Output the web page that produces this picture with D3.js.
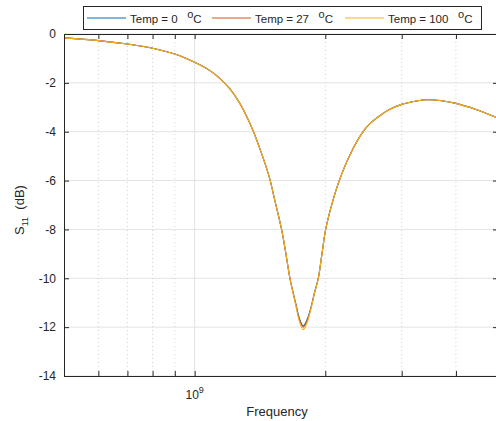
<!DOCTYPE html>
<html>
<head>
<meta charset="utf-8">
<script src="https://cdn.jsdelivr.net/npm/d3@7"></script>
<style>
  body { margin: 0; background: #fff; }
  text { font-family: "Liberation Sans", Arial, sans-serif; fill: #262626; }
</style>
</head>
<body>
<div id="app"></div>
<script>
// data: frequency (Hz) and S11 (dB) per temperature
var freq = [5.0e8, 6.0e8, 7.0e8, 8.0e8, 9.0e8, 1.0e9, 1.085e9, 1.143e9, 1.206e9, 1.272e9, 1.318e9, 1.365e9, 1.414e9, 1.465e9, 1.491e9, 1.525e9, 1.586e9, 1.623e9, 1.658e9, 1.711e9, 1.744e9, 1.779e9, 1.815e9, 1.853e9, 1.888e9, 1.927e9, 1.965e9, 2.004e9, 2.072e9, 2.154e9, 2.279e9, 2.426e9, 2.517e9, 2.627e9, 2.818e9, 3.0e9, 3.248e9, 3.424e9, 3.675e9, 4.0e9, 4.466e9, 4.945e9];
var temp0   = [-0.16, -0.27, -0.41, -0.58, -0.82, -1.16, -1.50, -1.82, -2.25, -2.85, -3.38, -3.98, -4.70, -5.50, -5.95, -6.70, -8.0, -9.0, -10.0, -11.05, -11.65, -11.95, -11.70, -11.2, -10.6, -10.0, -9.0, -8.0, -6.95, -6.0, -4.95, -4.08, -3.72, -3.44, -3.08, -2.88, -2.74, -2.69, -2.72, -2.84, -3.10, -3.41];
var temp27  = [-0.16, -0.27, -0.41, -0.58, -0.82, -1.16, -1.50, -1.82, -2.25, -2.85, -3.38, -3.98, -4.70, -5.50, -5.95, -6.70, -8.0, -9.0, -10.0, -11.08, -11.70, -12.00, -11.75, -11.22, -10.6, -10.0, -9.0, -8.0, -6.95, -6.0, -4.95, -4.08, -3.72, -3.44, -3.08, -2.88, -2.74, -2.69, -2.72, -2.84, -3.10, -3.41];
var temp100 = [-0.16, -0.27, -0.41, -0.58, -0.82, -1.16, -1.50, -1.82, -2.25, -2.85, -3.38, -3.98, -4.70, -5.50, -5.95, -6.70, -8.0, -9.0, -10.0, -11.12, -11.78, -12.10, -11.83, -11.26, -10.62, -10.0, -9.0, -8.0, -6.95, -6.0, -4.95, -4.08, -3.72, -3.44, -3.08, -2.88, -2.74, -2.69, -2.72, -2.84, -3.10, -3.41];
var seriesNames = ['Temp = 0', 'Temp = 27', 'Temp = 100'];
var yTicks = [0, -2, -4, -6, -8, -10, -12, -14];
var xMinor = [6e8, 7e8, 8e8, 9e8, 2e9, 3e9, 4e9];
var xMajor = [1e9];

var colors = ['#0072BD', '#D95319', '#EDB120'];
var series = [temp0, temp27, temp100];

var svg = d3.select('#app')
  .append('svg')
    .attr('width', 496)
    .attr('height', 421);

var mLeft = 64, mRight = 498, mTop = 34, mBottom = 376;

var x = d3.scaleLog()
    .domain([5e8, 5e9])
    .range([mLeft, mRight]);

var y = d3.scaleLinear()
    .domain([-14, 0])
    .range([mBottom, mTop]);

// grid
var grid = svg.append('g');
grid.selectAll('.yg')
    .data(yTicks)
  .enter().append('line')
    .attr('x1', mLeft).attr('x2', mRight)
    .attr('y1', function(d){return y(d)})
    .attr('y2', function(d){return y(d)})
    .attr('stroke', '#e3e3e3');
grid.selectAll('.xg')
    .data(xMajor)
  .enter().append('line')
    .attr('x1', function(d){return x(d)})
    .attr('x2', function(d){return x(d)})
    .attr('y1', mTop).attr('y2', mBottom)
    .attr('stroke', '#e3e3e3');
grid.selectAll('.xm')
    .data(xMinor)
  .enter().append('line')
    .attr('x1', function(d){return x(d)})
    .attr('x2', function(d){return x(d)})
    .attr('y1', mTop).attr('y2', mBottom)
    .attr('stroke', '#cfcfcf')
    .attr('stroke-dasharray', '1,3');

// curves
var line = d3.line()
    .x(function(d){return x(d[0])})
    .y(function(d){return y(d[1])})
    .curve(d3.curveCatmullRom.alpha(0.5));

series.forEach(function(s, i){
  svg.append('path')
    .datum(freq.map(function(f, j){return [f, s[j]]}))
    .attr('d', line)
    .attr('fill', 'none')
    .attr('stroke', colors[i])
    .attr('stroke-width', 1.1);
});

// axes
var axisColor = '#262626';
function styleAxis(g){
  g.select('.domain').attr('stroke', axisColor);
  g.selectAll('.tick line').attr('stroke', axisColor);
  g.selectAll('.tick text').style('font-size', '12px').attr('fill', axisColor);
}

svg.append('g')
    .attr('transform', 'translate(' + mLeft + ',0)')
    .call(d3.axisLeft(y).tickValues(yTicks).tickSizeInner(-5).tickSizeOuter(0).tickPadding(8)
      .tickFormat(function(d){return String(d)}))
    .call(styleAxis);

svg.append('g')
    .attr('transform', 'translate(' + mRight + ',0)')
    .call(d3.axisRight(y).tickValues(yTicks).tickSizeInner(-5).tickSizeOuter(0).tickFormat(''))
    .call(styleAxis);

var allX = xMajor.concat(xMinor);
svg.append('g')
    .attr('transform', 'translate(0,' + mBottom + ')')
    .call(d3.axisBottom(x).tickValues(allX).tickSizeInner(-5).tickSizeOuter(0).tickFormat(''))
    .call(styleAxis);
svg.append('g')
    .attr('transform', 'translate(0,' + mTop + ')')
    .call(d3.axisTop(x).tickValues(allX).tickSizeInner(-5).tickSizeOuter(0).tickFormat(''))
    .call(styleAxis);

svg.selectAll('.xlab')
    .data(xMajor)
  .enter().append('text')
    .attr('x', function(d){return x(d)})
    .attr('y', 399)
    .attr('text-anchor', 'middle')
    .style('font-size', '12px')
    .html(function(d){return '10<tspan dy="-6" font-size="9px">' + Math.round(Math.log10(d)) + '</tspan>'});

svg.append('text')
    .attr('x', 277)
    .attr('y', 416)
    .attr('text-anchor', 'middle')
    .style('font-size', '13px')
    .text('Frequency');

svg.append('text')
    .attr('transform', 'translate(24,' + 210 + ') rotate(-90)')
    .attr('text-anchor', 'middle')
    .style('font-size', '13px')
    .html('S<tspan dy="4" font-size="9px">11</tspan><tspan dy="-4">&#160;&#160;(dB)</tspan>');

// legend
var legend = svg.append('g');
legend.append('rect')
    .attr('x', 83.5).attr('y', 6.5)
    .attr('width', 398).attr('height', 23)
    .attr('fill', '#fff')
    .attr('stroke', axisColor);

var legX = [87, 212, 345];
seriesNames.forEach(function(name, i){
  legend.append('line')
    .attr('x1', legX[i]).attr('x2', legX[i] + 39)
    .attr('y1', 18).attr('y2', 18)
    .attr('stroke', colors[i])
    .attr('stroke-width', 1.1);
  legend.append('text')
    .attr('x', legX[i] + 43)
    .attr('y', 23)
    .style('font-size', '11.5px')
    .html(name + '&#160;&#160;&#160;<tspan dy="-5" font-size="11px">o</tspan><tspan dy="5">C</tspan>');
});
</script>
</body>
</html>
